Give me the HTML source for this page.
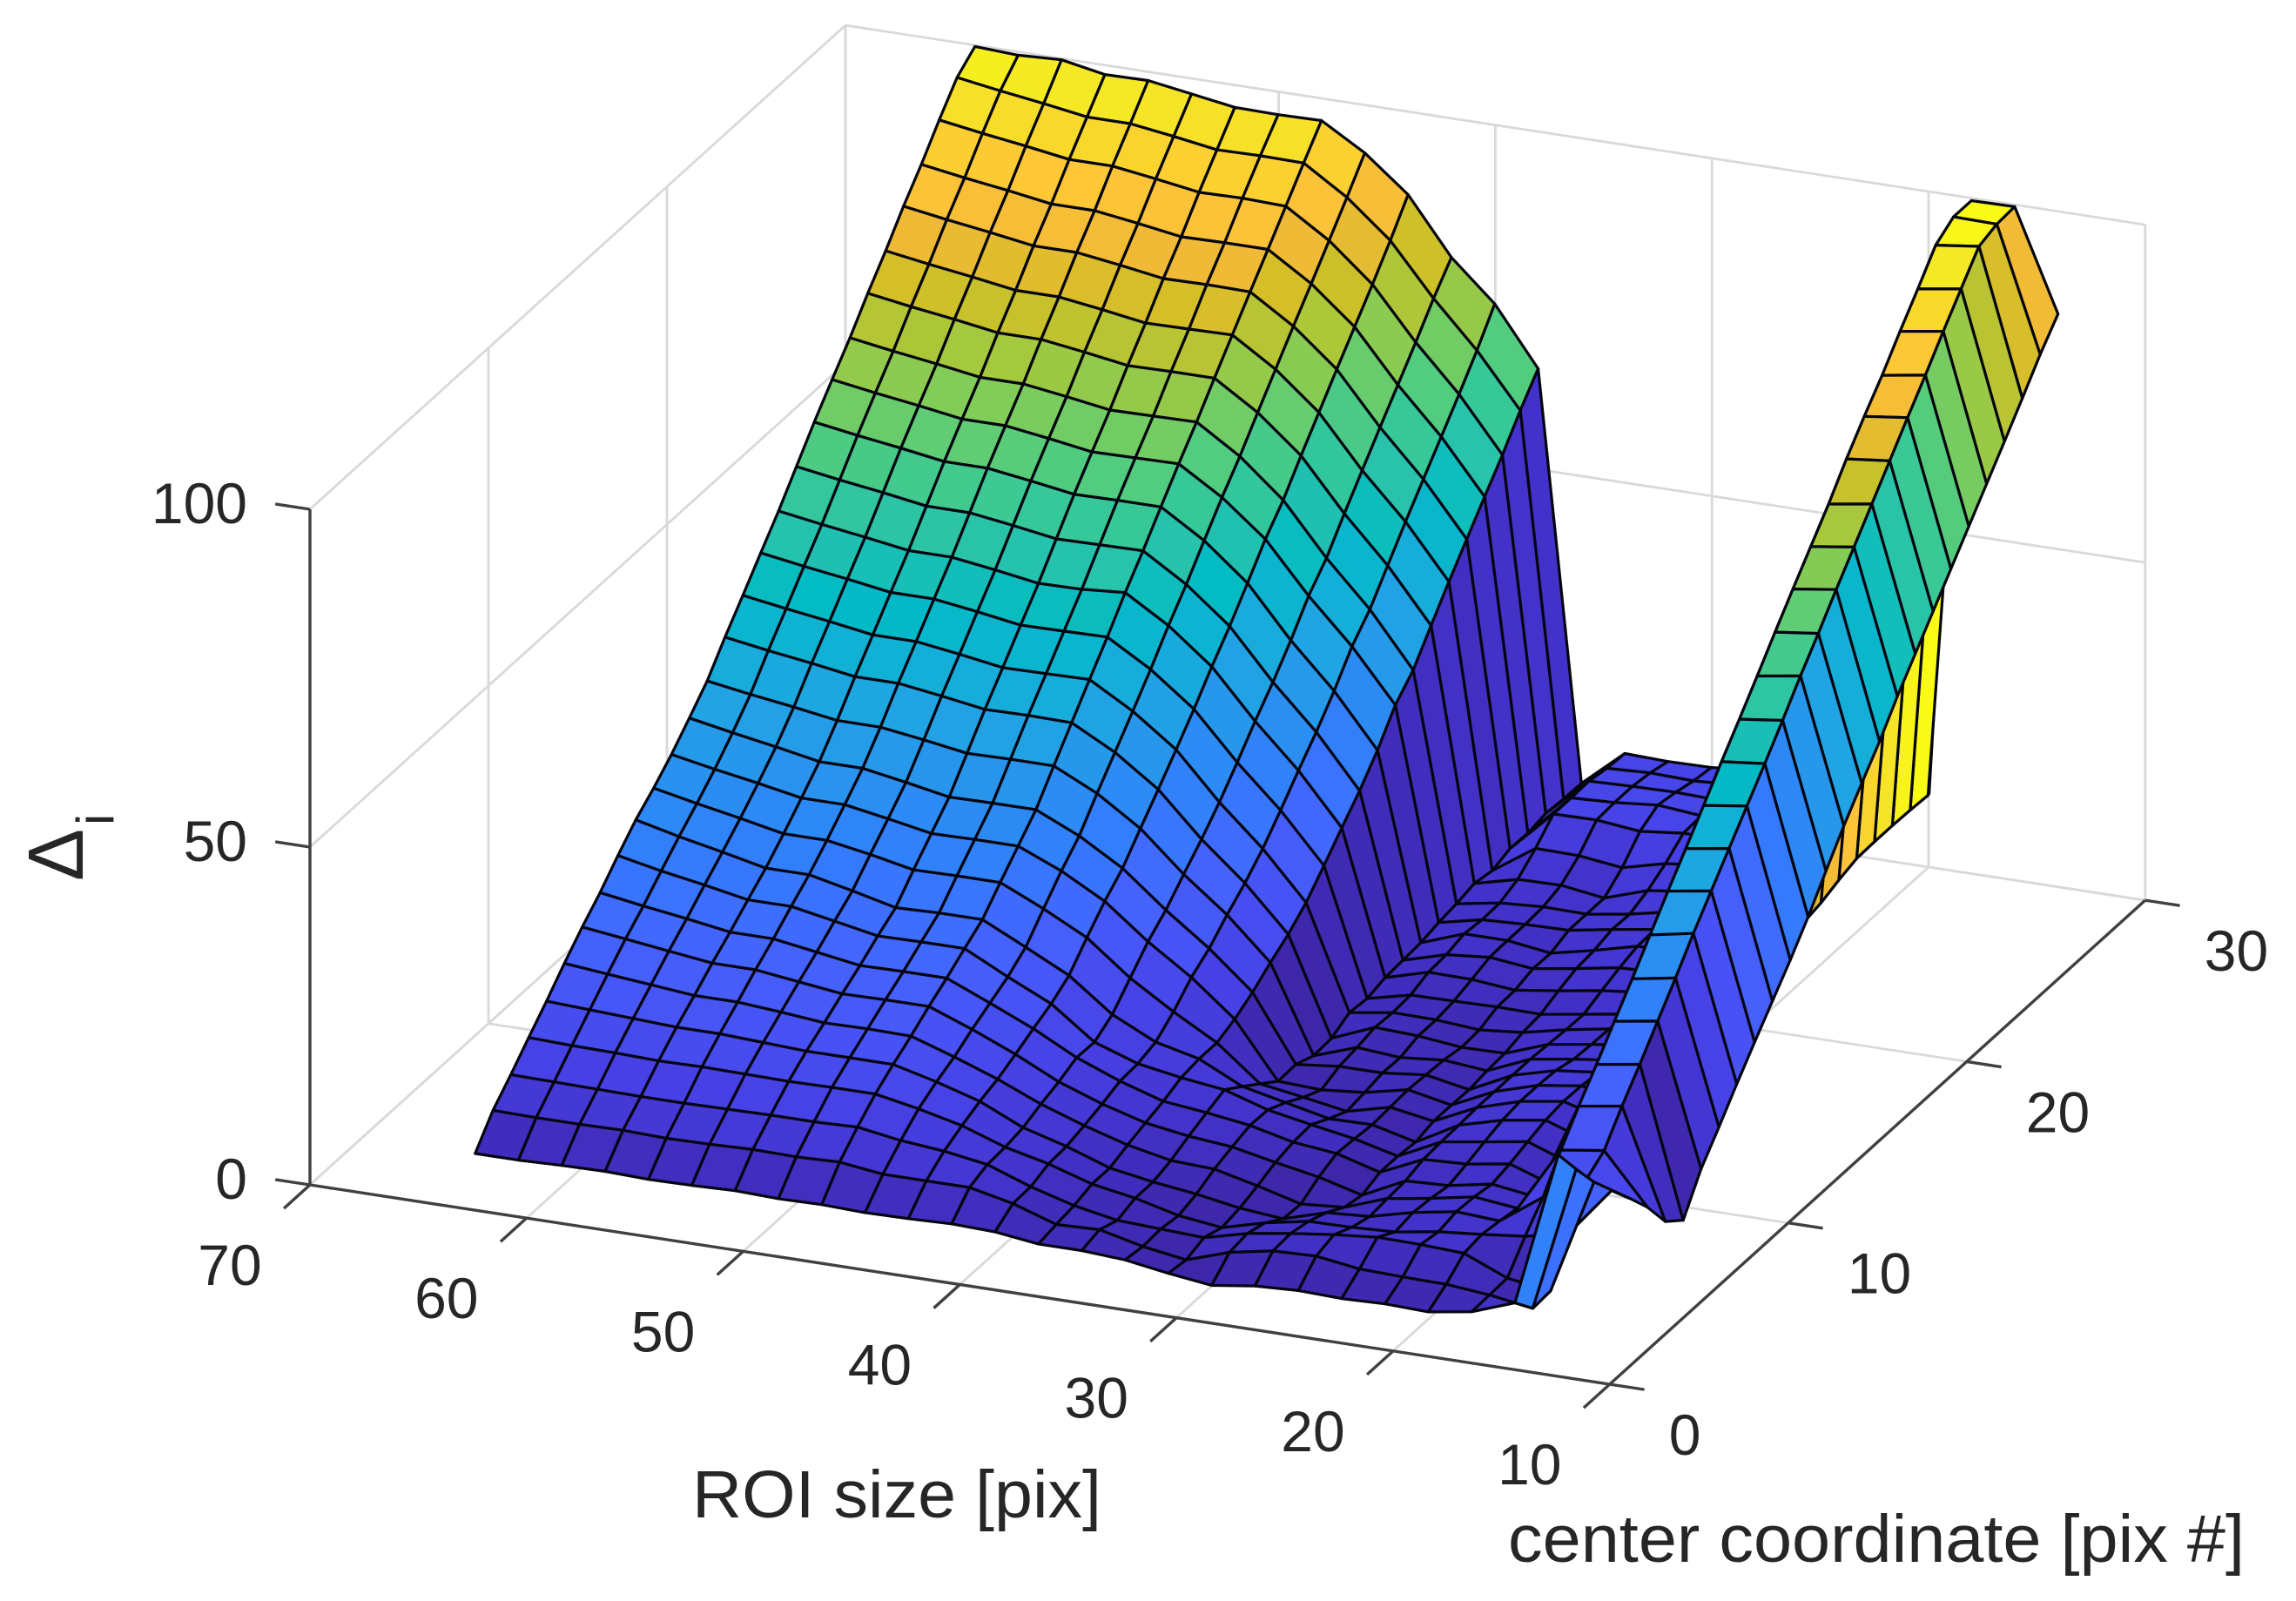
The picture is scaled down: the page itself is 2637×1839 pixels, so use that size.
<!DOCTYPE html>
<html lang="en">
<head>
<meta charset="utf-8">
<title>Delta surface plot</title>
<style>
html,body{margin:0;padding:0;background:#fff;}
#chart{display:block;width:2637px;height:1839px;}
text{font-family:"Liberation Sans",Arial,sans-serif;fill:#262626;}
</style>
</head>
<body>
<svg id="chart" xmlns="http://www.w3.org/2000/svg" width="2637" height="1839" viewBox="0 0 2637 1839">
  <g id="grid"></g>
  <g id="axes"></g>
  <g id="fold"></g>
  <g id="surface"></g>
  <g id="labels"></g>
  <text x="1030" y="1743" font-size="77" text-anchor="middle" textLength="470" lengthAdjust="spacingAndGlyphs">ROI size [pix]</text>
  <text x="2155" y="1794" font-size="77" text-anchor="middle" textLength="846" lengthAdjust="spacingAndGlyphs">center coordinate [pix #]</text>
  <text transform="translate(95,1012) rotate(-90)" font-size="90">Δ</text>
  <text transform="translate(130,948) rotate(-90)" font-size="60">i</text>
</svg>
<script>
var roiTicks = [70, 60, 50, 40, 30, 20, 10];
var centerTicks = [0, 10, 20, 30];
var deltaTicks = [0, 50, 100];

var roiValues = [63.2, 61.2, 59.2, 57.2, 55.2, 53.2, 51.2, 49.2, 47.2, 45.2, 43.2, 41.2, 39.2, 37.2, 35.2, 33.2, 31.2, 29.2, 27.2, 25.2, 23.2, 21.2, 19.2, 17.2, 15.2, 13.2];
var centerValues = [1, 2, 3, 4, 5, 6, 7, 8, 9, 10, 11, 12, 13, 14, 15, 16, 17, 18, 19, 20, 21, 22, 23, 24, 25, 26, 27, 28, 29];

var deltaValues = [
[5.6,5.6,5.8,5.9,5.7,5.8,6,5.8,5.9,5.7,5.8,6,5.8,5,5,4.6,3.6,2.8,3.7,4,3.8,4,3.8,4.8,7.1,30],
[9.6,9.5,9.5,9.6,9.4,9.5,9.7,9.6,9.8,9,9,9,7.6,5.5,5.7,4.2,3.2,5.3,6.5,6.7,5.8,5.6,5.5,4.9,3.9,25.5],
[12.5,12.4,12.3,12.2,12.2,12.3,12.4,12.4,12.6,11.6,11,10,7.7,5.9,4.7,4.4,4.1,5.7,6.7,7.5,8.1,8,7.7,5,4.1,21.2],
[15.6,15.4,15.3,15.1,15.2,15.1,15,15.1,15.1,13.9,12.4,10.2,8.7,6.7,5.6,4,3.2,4.9,6.1,6.2,6.5,7.5,8.1,8.8,10.2,17.6],
[18.6,18.3,18,17.7,17.7,17.4,17.1,17.1,17.1,15.5,13.6,10.7,8.9,6.7,5.6,4.8,3.7,3.1,5,5.4,7,8.1,7.7,12.2,15.8,14],
[21.8,21.2,20.6,20,20,19.5,18.9,19,18.9,16.8,14.5,11.8,9.6,7.7,6.4,6.1,4.6,2.9,3.4,5.7,6.7,7.9,7.2,16.8,17.7,10.3],
[24.8,24,23.2,22.4,22.4,21.6,20.8,20.9,20.9,18.5,15.8,12.7,10.4,8.6,7.6,7,5.7,4.5,2.8,5.9,6.2,7.4,6.5,20.9,21.9,5.8],
[27.5,26.5,25.6,24.6,24.6,23.6,22.6,22.7,22.7,20,17.2,13.9,11.4,9.4,8.7,7.8,6.3,5.6,3.8,6.7,7,8,5.8,24.7,25.7,3.6],
[30.6,29.3,28.2,27,27,25.8,24.6,24.7,24.7,21.5,18.5,13.8,11.6,10.5,9.7,7.7,6.5,5.4,3.8,6.9,7.9,8.9,6.6,28.7,29.7,8.8],
[33.5,32,30.7,29.3,29.3,27.9,26.4,26.6,26.6,23.5,20.3,15.5,12.4,10.9,7.8,6.4,5,5.1,3.5,7,8.7,9.7,7.5,32.6,33.7,12.6],
[35.8,34.5,33.3,32,32,30.9,29.6,29.7,29.7,26.8,23.5,18.5,14.5,10.9,5.8,4.8,3.7,5.3,4.2,7.2,9.1,10.1,8.3,36.7,37.9,16.6],
[38.4,37.2,36.1,34.9,34.9,33.8,32.6,32.7,32.7,30,26.5,21.5,17.2,12,3.8,3.5,4.1,5.5,4.2,7.2,9.1,10,9,40.8,41.8,20.4],
[41.4,40.2,39.1,37.9,37.9,36.8,35.6,35.7,35.7,32.8,29,23.8,19.1,13.6,3.9,4.6,4.6,5.3,4.1,7.2,8.9,9.6,9.3,44.7,45.7,24.1],
[44.5,43.5,42.6,41.6,41.6,40.7,39.7,39.8,39.8,36.7,32.5,26.7,21.7,15.6,2.8,5,4.5,5.1,4.5,7.2,8.2,9,9.4,48.7,49.6,27.8],
[48.6,47.6,46.7,45.7,45.7,44.8,43.8,43.9,43.8,40.4,35.9,29.5,24,17.4,3,5.6,5.3,4.6,4.7,7,8,8.8,9.3,52.8,53.5,31.8],
[52.4,51.4,50.5,49.5,49.5,48.6,47.6,47.7,47.8,44.1,39.4,32.6,26.7,19.7,4.4,5.4,5.3,4.8,5.4,6.8,7.9,8.6,9.2,56.7,57.5,36.2],
[56.3,55.3,54.4,53.4,53.4,52.5,51.5,51.6,51.7,47.9,43,36.1,30,22.8,4.1,5.6,5.7,5.8,5.7,6.7,7.7,8.6,9.2,60.7,61.7,40.5],
[60.1,59.1,58.2,57.2,57.2,56.3,55.3,55.4,55.9,52,46.9,39.8,33.5,26,4.8,6.6,6.5,5.9,6.8,7.8,8.5,9,9.5,64.8,65.6,44.4],
[64.3,63.3,62.4,61.4,61.4,60.5,59.5,59.6,59.7,55.7,50.5,43.2,36.8,29.1,5,6.8,7.4,6.7,7.7,8.8,9,9.5,10,68.8,69.7,48.2],
[68.5,67.5,66.6,65.6,65.6,64.7,63.7,63.8,63.8,59.8,54.5,47,40.5,32.7,5.2,7.5,7.5,6.6,8,9.6,9.6,10,10.4,72.7,73.6,52.5],
[72.4,71.4,70.5,69.5,69.5,68.6,67.6,67.7,67.8,63.8,58.6,51.2,44.7,37,5.8,7.2,7.5,7.6,8.7,9.7,10,10.4,10.8,76.6,77.6,56.4],
[76.2,75.2,74.3,73.3,73.3,72.4,71.4,71.5,71.6,67.5,62,54.4,47.8,39.8,6.2,7.3,7.7,7.6,8.6,9.9,10.4,10.8,11.2,80.9,81.6,60.3],
[80.4,79.4,78.5,77.5,77.5,76.6,75.6,75.7,75.7,71.6,66.2,58.6,51.9,44,6.8,8.4,8.5,7.6,9.7,10.5,11,11.4,11.8,84.8,85.6,64.2],
[84.3,83.3,82.4,81.4,81.4,80.5,79.5,79.6,79.7,75.6,70.2,62.6,56,48.1,6.3,10.6,10.5,9.7,11.3,12,12,12.4,12.8,88.5,89.5,68.1],
[88.5,87.5,86.6,85.6,85.6,84.7,83.7,83.8,83.7,79.6,74.2,66.6,59.9,52,7.2,13.3,13.4,12.7,13.4,13.4,13.5,13.6,13.6,92.6,93.6,72],
[92.3,91.3,90.4,89.4,89.4,88.5,87.5,87.6,87.6,83.5,78.1,70.5,63.8,55.9,7.1,13.3,13.6,14.2,13.6,13.5,13.6,13.6,13.7,96.5,97.5,75.9],
[96.5,95.5,94.6,93.6,93.6,92.7,91.7,91.8,91.6,87.5,82,74.4,67.7,59.7,7.6,13.4,13.6,13.7,13.5,13.6,13.6,13.7,13.7,100.6,101.4,79.9],
[100.4,99.4,98.5,97.5,97.5,96.6,95.6,95.7,95.6,91.5,86.1,78.5,71.8,63.9,7.4,12.9,13.2,13,13.4,13.5,13.5,13.6,13.6,102.4,102.3,84],
[102.6,102.3,102.6,101.4,101.5,100.5,99.5,99.4,99.5,95.7,90.5,82.2,76.3,67.7,7.3,12.7,12.5,12.6,13.2,13.2,13.3,13.3,13.4,102.4,102.5,87.6]
];

var foldRoi = 11.2;
var foldBottomCenter = [12.61, 13.4, 14.37, 15.35, 16.4, 17.4, 18.4, 19.35];
var foldBottomDelta = [38.5, 39.3, 40.6, 42, 41.7, 40.9, 40.7, 40.6];
var foldTopCenter = [12.61, 13.5, 14.56, 15.6, 16.66, 17.8, 18.7, 20.08];
var foldTopDelta = [41, 46, 50, 53, 57, 61, 66, 72];
var foldColorValues = [88, 90, 92, 95, 98, 100, 102];

var parula = [
[0.2422,0.1504,0.6603],[0.2647,0.1978,0.7952],[0.2783,0.2559,0.8991],[0.2810,0.3228,0.9579],
[0.2699,0.3892,0.9906],[0.2206,0.4603,0.9973],[0.1786,0.5289,0.9682],[0.1540,0.5902,0.9218],
[0.1248,0.6459,0.8883],[0.0689,0.6948,0.8394],[0.0067,0.7312,0.7660],[0.1408,0.7584,0.6842],
[0.2161,0.7843,0.5923],[0.3406,0.8008,0.4789],[0.5044,0.7993,0.3480],[0.6720,0.7793,0.2227],
[0.8203,0.7498,0.1535],[0.9393,0.7288,0.2100],[0.9970,0.7659,0.2199],[0.9786,0.8386,0.1766],
[0.9597,0.9135,0.1423],[0.9769,0.9839,0.0805]
];
var colorMin = 2.8;
var colorMax = 102.6;

var NS = 'http://www.w3.org/2000/svg';

function axisX(roi, center) {
  return 356 + 24.88 * (70 - roi) + 20.5 * center;
}
function axisY(roi, center, delta) {
  return 1361 + 3.817 * (70 - roi) - 18.53 * center - 7.76 * delta;
}
function colorFor(value) {
  var t = (value - colorMin) / (colorMax - colorMin);
  t = Math.max(0, Math.min(1, t)) * (parula.length - 1);
  var i = Math.min(parula.length - 2, Math.floor(t));
  var f = t - i;
  var rgb = [0, 1, 2].map(function (c) {
    return Math.round(255 * (parula[i][c] + (parula[i + 1][c] - parula[i][c]) * f));
  });
  return 'rgb(' + rgb.join(',') + ')';
}
function pt(roi, center, delta) {
  return axisX(roi, center).toFixed(1) + ',' + axisY(roi, center, delta).toFixed(1);
}
function drawLine(parent, r1, c1, z1, r2, c2, z2, color, width) {
  var el = document.createElementNS(NS, 'line');
  el.setAttribute('x1', axisX(r1, c1));
  el.setAttribute('y1', axisY(r1, c1, z1));
  el.setAttribute('x2', axisX(r2, c2));
  el.setAttribute('y2', axisY(r2, c2, z2));
  el.setAttribute('stroke', color);
  el.setAttribute('stroke-width', width);
  parent.appendChild(el);
  return el;
}
function drawQuad(parent, points, fill) {
  var el = document.createElementNS(NS, 'polygon');
  el.setAttribute('points', points.join(' '));
  el.setAttribute('fill', fill);
  el.setAttribute('stroke', '#050510');
  el.setAttribute('stroke-width', '3.2');
  el.setAttribute('stroke-linejoin', 'round');
  parent.appendChild(el);
  return el;
}

var gridG = document.getElementById('grid');
var axesG = document.getElementById('axes');
var foldG = document.getElementById('fold');
var surfG = document.getElementById('surface');
var labelG = document.getElementById('labels');
var GRID = '#d9d9d9';
var gl;

roiTicks.forEach(function (r) {
  gl = drawLine(gridG, r, 0, 0, r, 30, 0, GRID, 2.8);
  
  
  gl = drawLine(gridG, r, 30, 0, r, 30, 100, GRID, 2.8);
  
  
});
centerTicks.forEach(function (c) {
  gl = drawLine(gridG, 70, c, 0, 10, c, 0, GRID, 2.8);
  
  
  gl = drawLine(gridG, 70, c, 0, 70, c, 100, GRID, 2.8);
  
  
});
deltaTicks.forEach(function (z) {
  gl = drawLine(gridG, 70, 0, z, 70, 30, z, GRID, 2.8);
  
  
  gl = drawLine(gridG, 70, 30, z, 10, 30, z, GRID, 2.8);
  
  
});

var AX = '#404040';
var ax;
ax = drawLine(axesG, 70, 0, 0, 70, 0, 100, AX, 3.4);


ax = drawLine(axesG, 70, 0, 0, 10, 0, 0, AX, 3.4);


ax = drawLine(axesG, 10, 0, 0, 10, 30, 0, AX, 3.4);



function addLabel(text, x, y, anchor, name) {
  var el = document.createElementNS(NS, 'text');
  el.setAttribute('x', x);
  el.setAttribute('y', y);
  el.setAttribute('font-size', '66');
  el.setAttribute('text-anchor', anchor);
  el.setAttribute('dominant-baseline', 'central');
  el.textContent = text;
  
  
  labelG.appendChild(el);
}

roiTicks.forEach(function (r) {
  ax = drawLine(axesG, r, 0, 0, r, -1.46, 0, AX, 3.4);
  
  
  addLabel(String(r), axisX(r, 0) - 92, axisY(r, 0, 0) + 92, 'middle', 'x-tick-label');
});
centerTicks.forEach(function (c) {
  ax = drawLine(axesG, 10, c, 0, 8.4, c, 0, AX, 3.4);
  
  
  addLabel(String(c), axisX(10, c) + 68, axisY(10, c, 0) + 58, 'start', 'y-tick-label');
});
deltaTicks.forEach(function (z) {
  ax = drawLine(axesG, 70, 0, z, 71.6, 0, z, AX, 3.4);
  
  
  addLabel(String(z), 284, axisY(70, 0, z) - 7, 'end', 'z-tick-label');
});

foldColorValues.forEach(function (v, i) {
  var poly = drawQuad(foldG, [
    pt(foldRoi, foldBottomCenter[i], foldBottomDelta[i]),
    pt(foldRoi, foldBottomCenter[i + 1], foldBottomDelta[i + 1]),
    pt(foldRoi, foldTopCenter[i + 1], foldTopDelta[i + 1]),
    pt(foldRoi, foldTopCenter[i], foldTopDelta[i])
  ], colorFor(v));
  
  
});

for (var r = centerValues.length - 2; r >= 0; r--) {
  for (var k = 0; k < roiValues.length - 1; k++) {
    var cell = drawQuad(surfG, [
      pt(roiValues[k], centerValues[r], deltaValues[r][k]),
      pt(roiValues[k + 1], centerValues[r], deltaValues[r][k + 1]),
      pt(roiValues[k + 1], centerValues[r + 1], deltaValues[r + 1][k + 1]),
      pt(roiValues[k], centerValues[r + 1], deltaValues[r + 1][k])
    ], colorFor(deltaValues[r][k + 1]));
    
    
  }
}
</script>
</body>
</html>
